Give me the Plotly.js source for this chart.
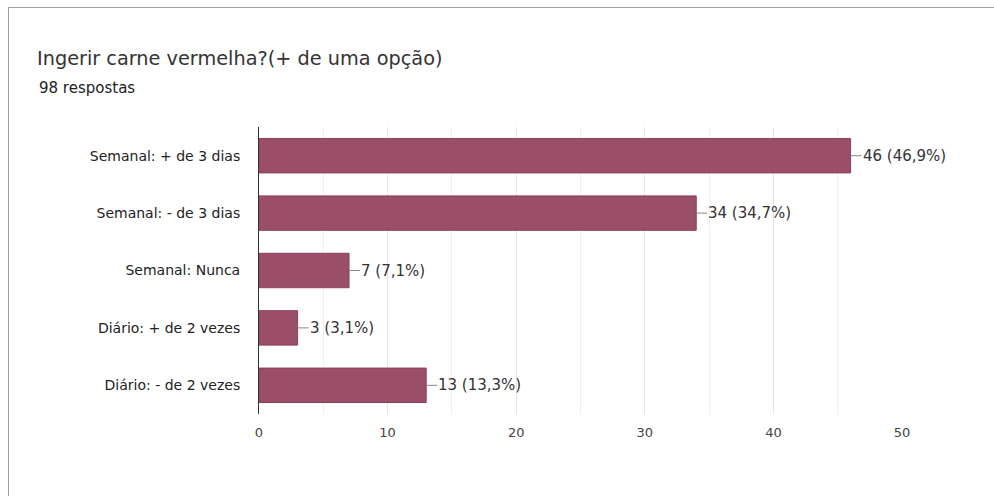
<!DOCTYPE html>
<html>
<head>
<meta charset="utf-8">
<script src="https://cdn.plot.ly/plotly-3.0.1.min.js"></script>
<style>
html,body{margin:0;padding:0;background:#fff;}
#wrap{position:relative;width:994px;height:496px;overflow:hidden;}
#frame{position:absolute;left:8px;top:7px;width:1000px;height:520px;border:1px solid #a0a0a0;box-sizing:border-box;}
#chart{position:absolute;left:0;top:0;width:994px;height:496px;}
</style>
</head>
<body>
<div id="wrap">
<div id="frame"></div>
<div id="chart"></div>
</div>
<script>
const categories = ["Semanal: + de 3 dias", "Semanal: - de 3 dias", "Semanal: Nunca", "Diário: + de 2 vezes", "Diário: - de 2 vezes"];
const counts = [46, 34, 7, 3, 13];
const totalResponses = 98;
const titleText = "Ingerir carne vermelha?(+ de uma opção)";
const subtitleText = "98 respostas";
const xTicks = [0, 10, 20, 30, 40, 50];

const FONT = "'DejaVu Sans', Arial, sans-serif";
const labels = counts.map(v => v + " (" + (v / totalResponses * 100).toFixed(1).replace(".", ",") + "%)");

const trace = {
  type: "bar",
  orientation: "h",
  y: categories,
  x: counts,
  width: 0.6,
  marker: {color: "#9b4e68", line: {color: "#8c4159", width: 1}},
  hoverinfo: "none"
};

const annotations = counts.map((v, i) => ({
  x: v, y: categories[i], xref: "x", yref: "y",
  text: labels[i], showarrow: true, arrowhead: 0, arrowwidth: 1, arrowcolor: "#888",
  ax: 11, ay: 0, axref: "pixel", ayref: "pixel", xanchor: "left", borderpad: 0,
  font: {family: FONT, size: 15, color: "#333"}
}));
annotations.push({
  xref: "paper", yref: "paper", x: (37 - 259) / 643, y: 1 + (127 - 88) / 287,
  xanchor: "left", yanchor: "middle", showarrow: false, text: subtitleText,
  font: {family: FONT, size: 15, color: "#222"}
});

const layout = {
  width: 994, height: 496,
  margin: {l: 259, r: 92, t: 127, b: 82},
  paper_bgcolor: "rgba(0,0,0,0)", plot_bgcolor: "rgba(0,0,0,0)",
  showlegend: false,
  bargap: 0.4,
  title: {
    text: titleText, xref: "container", yref: "container",
    x: 37 / 994, xanchor: "left", y: 1 - 58 / 496, yanchor: "middle",
    font: {family: FONT, size: 19.3, color: "#333"}
  },
  xaxis: {
    range: [0, 50], tickvals: xTicks, ticktext: xTicks.map(String),
    showgrid: true, gridcolor: "#e6e6e6", gridwidth: 1,
    minor: {dtick: 5, showgrid: true, gridcolor: "#f0f0f0", gridwidth: 1},
    zeroline: false, showline: false, ticks: "", ticklabelstandoff: 9,
    tickfont: {family: FONT, size: 13, color: "#444"},
    fixedrange: true
  },
  yaxis: {
    autorange: "reversed", showline: true, linecolor: "#333", linewidth: 1,
    showgrid: false, ticks: "", ticklabelstandoff: 15,
    tickfont: {family: FONT, size: 14, color: "#222"},
    fixedrange: true
  },
  annotations: annotations
};

Plotly.newPlot("chart", [trace], layout, {displayModeBar: false, staticPlot: true});
</script>
</body>
</html>
